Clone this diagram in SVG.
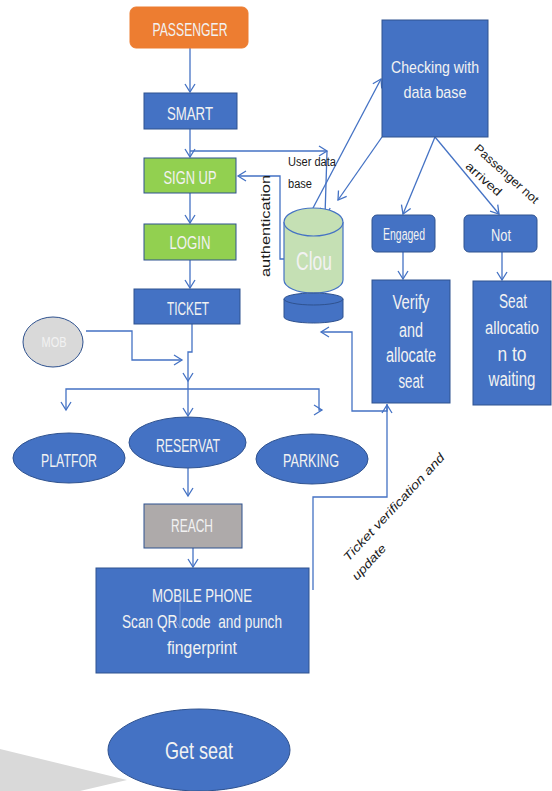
<svg xmlns="http://www.w3.org/2000/svg" width="552" height="791" viewBox="0 0 552 791">
  <style>
    .box { fill: #4472C4; stroke: #2F528F; stroke-width: 1; }
    .green { fill: #92D050; stroke: #2F528F; stroke-width: 1; }
    .lbl { font-family: "Liberation Sans", Arial, sans-serif; fill: #F2F2F2; text-anchor: middle; }
    .note { font-family: "Liberation Sans", Arial, sans-serif; fill: #1a1a1a; font-size: 12px; }
    .conn { fill: none; stroke: #4472C4; stroke-width: 1.3; }
  </style>
  <defs>
    <marker id="arr" markerUnits="userSpaceOnUse" markerWidth="14" markerHeight="14" refX="9" refY="6" orient="auto">
      <polyline points="1,1 9,6 1,11" fill="none" stroke="#4472C4" stroke-width="1.3"/>
    </marker>
    <marker id="arrFaint" markerUnits="userSpaceOnUse" markerWidth="14" markerHeight="14" refX="9" refY="6" orient="auto">
      <polyline points="1,1 9,6 1,11" fill="none" stroke="#9DB3DE" stroke-width="1"/>
    </marker>
  </defs>

  <rect width="552" height="791" fill="#FFFFFF"/>

  <!-- grey wedge at lower left -->
  <polygon points="0,749 127,780 80,791 0,791" fill="#D9D9D9"/>

  <!-- connectors -->
  <g id="connectors">
    <path class="conn" d="M190 48 V92" marker-end="url(#arr)"/>
    <path class="conn" d="M190 129 V157" marker-end="url(#arr)"/>
    <path class="conn" d="M190 151 H327" marker-end="url(#arr)"/>
    <path class="conn" d="M327 151 L325 216" marker-end="url(#arr)"/>
    <path class="conn" d="M300 259 H280 V176 H238" marker-end="url(#arr)"/>
    <path class="conn" d="M190 193 V223" marker-end="url(#arr)"/>
    <path class="conn" d="M190 260 V288" marker-end="url(#arr)"/>
    <path class="conn" d="M313 208 L381 79" marker-end="url(#arr)"/>
    <path class="conn" d="M382 137 L338 200" marker-end="url(#arr)"/>
    <path class="conn" d="M435 137 L403 214" marker-end="url(#arr)"/>
    <path class="conn" d="M435 137 L499 214" marker-end="url(#arr)"/>
    <path class="conn" d="M403 252 V279" marker-end="url(#arr)"/>
    <path class="conn" d="M502 252 V280" marker-end="url(#arr)"/>
    <path class="conn" d="M192 324 V352 H188 V381" marker-end="url(#arr)"/>
    <path class="conn" d="M188 381 V416" marker-end="url(#arr)"/>
    <path class="conn" d="M188 389 H66 V410" marker-end="url(#arr)"/>
    <path class="conn" d="M188 389 H319 V410 H322" marker-end="url(#arr)"/>
    <path class="conn" d="M86 331 H132 V360 H182" marker-end="url(#arr)"/>
    <path class="conn" d="M188 468 V496" marker-end="url(#arr)"/>
    <path class="conn" d="M193 548 V567" marker-end="url(#arr)"/>
    <path class="conn" d="M313 590 V497 H387 V405" marker-end="url(#arr)"/>
    <path class="conn" d="M387 404 V411 H352 V332 H321" marker-end="url(#arr)"/>
  </g>

  <!-- connector labels -->
  <text class="note" x="288" y="166" textLength="48" lengthAdjust="spacingAndGlyphs">User data</text>
  <text class="note" x="288" y="188" textLength="24" lengthAdjust="spacingAndGlyphs">base</text>
  <text class="note" font-size="13" text-anchor="middle" transform="translate(270 226) rotate(-90)" textLength="102" lengthAdjust="spacingAndGlyphs">authentication</text>
  <text class="note" text-anchor="middle" transform="translate(504 177) rotate(42)" textLength="82" lengthAdjust="spacingAndGlyphs">Passenger not</text>
  <text class="note" text-anchor="middle" transform="translate(481 182) rotate(42)" textLength="44" lengthAdjust="spacingAndGlyphs">arrived</text>
  <text class="note" font-style="italic" text-anchor="middle" transform="translate(397 510) rotate(-47)" textLength="142" lengthAdjust="spacingAndGlyphs">Ticket verification and</text>
  <text class="note" font-style="italic" text-anchor="middle" transform="translate(372 565) rotate(-47)" textLength="44" lengthAdjust="spacingAndGlyphs">update</text>

  <!-- nodes -->
  <g id="passenger">
    <rect x="130" y="7" width="118" height="41" rx="6" fill="#ED7D31" stroke="#ED7D31"/>
    <text class="lbl" x="190" y="36" font-size="18" textLength="75" lengthAdjust="spacingAndGlyphs">PASSENGER</text>
  </g>
  <g id="smart">
    <rect class="box" x="144" y="93" width="93" height="36"/>
    <text class="lbl" x="190" y="120" font-size="18" textLength="46" lengthAdjust="spacingAndGlyphs">SMART</text>
  </g>
  <g id="signup">
    <rect class="green" x="144" y="158" width="92" height="35"/>
    <text class="lbl" x="190" y="184" font-size="18" textLength="53" lengthAdjust="spacingAndGlyphs">SIGN UP</text>
  </g>
  <g id="login">
    <rect class="green" x="144" y="224" width="92" height="36"/>
    <text class="lbl" x="190" y="249" font-size="18" textLength="41" lengthAdjust="spacingAndGlyphs">LOGIN</text>
  </g>
  <g id="ticket">
    <rect class="box" x="134" y="289" width="106" height="35"/>
    <text class="lbl" x="188" y="315" font-size="18" textLength="42" lengthAdjust="spacingAndGlyphs">TICKET</text>
  </g>
  <g id="mob">
    <ellipse cx="53" cy="342" rx="30" ry="25" fill="#D9D9D9" stroke="#2F528F" stroke-width="1"/>
    <text class="lbl" x="54" y="347" font-size="14" textLength="25" lengthAdjust="spacingAndGlyphs">MOB</text>
  </g>
  <g id="cloud">
    <path d="M284 222 V280 A29.5 13 0 0 0 343 280 V222" fill="#C5E0B4" stroke="#4472C4" stroke-width="1.2"/>
    <ellipse cx="313.5" cy="222" rx="29.5" ry="14" fill="#C5E0B4" stroke="#4472C4" stroke-width="1.2"/>
    <text class="lbl" x="314" y="270" font-size="25" textLength="36" lengthAdjust="spacingAndGlyphs">Clou</text>
  </g>
  <g id="disc">
    <path d="M284 299 V317 A29.5 6 0 0 0 343 317 V299" fill="#4472C4" stroke="#2F528F" stroke-width="1"/>
    <ellipse cx="313.5" cy="299" rx="29.5" ry="6" fill="#4472C4" stroke="#2F528F" stroke-width="1"/>
  </g>
  <g id="checking">
    <rect class="box" x="382" y="20" width="106" height="117"/>
    <text class="lbl" x="435" y="73" font-size="17" textLength="88" lengthAdjust="spacingAndGlyphs">Checking with</text>
    <text class="lbl" x="435" y="98" font-size="17" textLength="63" lengthAdjust="spacingAndGlyphs">data base</text>
  </g>
  <g id="engaged">
    <rect class="box" x="372" y="215" width="63" height="37" rx="5"/>
    <text class="lbl" x="404" y="240" font-size="16" textLength="42" lengthAdjust="spacingAndGlyphs">Engaged</text>
  </g>
  <g id="not">
    <rect class="box" x="464" y="215" width="73" height="37" rx="5"/>
    <text class="lbl" x="501" y="241" font-size="16" textLength="20" lengthAdjust="spacingAndGlyphs">Not</text>
  </g>
  <g id="verify">
    <rect class="box" x="372" y="280" width="78" height="123"/>
    <text class="lbl" x="411" y="309" font-size="20" textLength="37" lengthAdjust="spacingAndGlyphs">Verify</text>
    <text class="lbl" x="411" y="337" font-size="20" textLength="24" lengthAdjust="spacingAndGlyphs">and</text>
    <text class="lbl" x="411" y="362" font-size="20" textLength="50" lengthAdjust="spacingAndGlyphs">allocate</text>
    <text class="lbl" x="411" y="388" font-size="20" textLength="25" lengthAdjust="spacingAndGlyphs">seat</text>
  </g>
  <g id="seat-allocation">
    <rect class="box" x="473" y="281" width="78" height="124"/>
    <text class="lbl" x="513" y="308" font-size="20" textLength="28" lengthAdjust="spacingAndGlyphs">Seat</text>
    <text class="lbl" x="512" y="334" font-size="18" textLength="54" lengthAdjust="spacingAndGlyphs">allocatio</text>
    <text class="lbl" x="512" y="361" font-size="20" textLength="29" lengthAdjust="spacingAndGlyphs">n to</text>
    <text class="lbl" x="512" y="386" font-size="20" textLength="47" lengthAdjust="spacingAndGlyphs">waiting</text>
  </g>
  <g id="platform">
    <ellipse class="box" cx="69" cy="458" rx="56" ry="25"/>
    <text class="lbl" x="69" y="467" font-size="18" textLength="56" lengthAdjust="spacingAndGlyphs">PLATFOR</text>
  </g>
  <g id="reservation">
    <ellipse class="box" cx="187.5" cy="442.5" rx="58.5" ry="25.5"/>
    <text class="lbl" x="188" y="452" font-size="18" textLength="64" lengthAdjust="spacingAndGlyphs">RESERVAT</text>
  </g>
  <g id="parking">
    <ellipse class="box" cx="312" cy="459" rx="56" ry="25"/>
    <text class="lbl" x="311" y="467" font-size="18" textLength="56" lengthAdjust="spacingAndGlyphs">PARKING</text>
  </g>
  <g id="reach">
    <rect x="144" y="504" width="98" height="44" fill="#AEAAAA" stroke="#2F528F" stroke-width="1"/>
    <text class="lbl" x="192" y="532" font-size="18" textLength="42" lengthAdjust="spacingAndGlyphs">REACH</text>
  </g>
  <g id="mobile-phone">
    <rect class="box" x="96" y="568" width="213" height="105"/>
    <text class="lbl" x="202" y="602" font-size="18" textLength="100" lengthAdjust="spacingAndGlyphs">MOBILE PHONE</text>
    <text class="lbl" x="202" y="628" font-size="18" textLength="160" lengthAdjust="spacingAndGlyphs" xml:space="preserve">Scan QR code  and punch</text>
    <text class="lbl" x="202" y="654" font-size="18" textLength="70" lengthAdjust="spacingAndGlyphs">fingerprint</text>
    <path d="M180 593 V628" fill="none" stroke="#9DB3DE" stroke-width="1" opacity="0.5" marker-end="url(#arrFaint)"/>
  </g>
  <g id="get-seat">
    <ellipse class="box" cx="199" cy="750" rx="91" ry="41"/>
    <text class="lbl" x="199" y="759" font-size="24" textLength="68" lengthAdjust="spacingAndGlyphs">Get seat</text>
  </g>
</svg>
